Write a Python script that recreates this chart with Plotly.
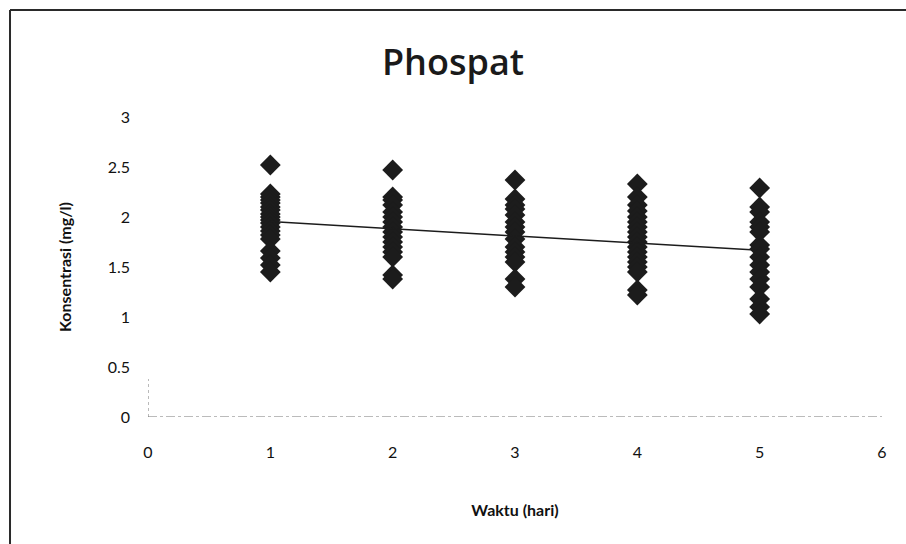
import numpy as np
import plotly.graph_objects as go

days = [1, 2, 3, 4, 5]
day1 = [2.52, 2.23, 2.20, 2.17, 2.14, 2.10, 2.07, 2.03, 2.00, 1.97, 1.94, 1.90, 1.86, 1.82, 1.78, 1.66, 1.59, 1.52, 1.45]
day2 = [2.47, 2.20, 2.17, 2.12, 2.05, 2.00, 1.95, 1.90, 1.85, 1.80, 1.75, 1.70, 1.65, 1.60, 1.42, 1.38]
day3 = [2.37, 2.18, 2.12, 2.08, 2.02, 1.95, 1.90, 1.85, 1.78, 1.70, 1.65, 1.60, 1.55, 1.38, 1.30]
day4 = [2.33, 2.20, 2.12, 2.06, 2.00, 1.95, 1.90, 1.85, 1.80, 1.75, 1.70, 1.65, 1.60, 1.55, 1.50, 1.45, 1.27, 1.22]
day5 = [2.29, 2.10, 2.05, 1.95, 1.90, 1.85, 1.72, 1.68, 1.60, 1.52, 1.45, 1.38, 1.30, 1.18, 1.10, 1.03]
groups = [day1, day2, day3, day4, day5]

x_ticks = [0, 1, 2, 3, 4, 5, 6]
y_ticks = [0, 0.5, 1, 1.5, 2, 2.5, 3]
y_tick_text = ["0", "0.5", "1", "1.5", "2", "2.5", "3"]

xs = []
ys = []
for d, vals in zip(days, groups):
    xs += [d] * len(vals)
    ys += vals
xs = np.array(xs, dtype=float)
ys = np.array(ys, dtype=float)
slope, intercept = np.polyfit(xs, ys, 1)
trend_x = np.array([1.0, 5.0])
trend_y = slope * trend_x + intercept

FONT = "Lato"

fig = go.Figure()
fig.add_trace(go.Scatter(
    x=xs, y=ys, mode="markers",
    marker=dict(symbol="diamond", size=16, color="#1c1c1c", line=dict(width=0)),
    showlegend=False, hoverinfo="x+y"))
fig.add_trace(go.Scatter(
    x=trend_x, y=trend_y, mode="lines",
    line=dict(color="#1c1c1c", width=1.5), showlegend=False))

fig.update_layout(
    width=906, height=544,
    margin=dict(l=148, r=24, t=117, b=127),
    paper_bgcolor="white", plot_bgcolor="white",
    title=dict(text="Phospat", x=0.5, xanchor="center", y=0.885, yanchor="middle",
               font=dict(family="Open Sans", size=36, weight=600, color="#1a1a1a")),
    xaxis=dict(range=[0, 6], tickvals=x_ticks, ticktext=[str(v) for v in x_ticks],
               showgrid=False, zeroline=False, showline=False, ticks="",
               tickfont=dict(family=FONT, size=16, color="#111111"), ticklabelstandoff=24,
               title=dict(text="<b>Waktu (hari)</b>", font=dict(family=FONT, size=16, color="#111111"),
                          standoff=44)),
    yaxis=dict(range=[0, 3], tickvals=y_ticks, ticktext=y_tick_text,
               showgrid=False, zeroline=False, showline=False, ticks="",
               tickfont=dict(family=FONT, size=16, color="#111111"), ticklabelstandoff=17,
               title=dict(text="<b>Konsentrasi (mg/l)</b>", font=dict(family=FONT, size=16, color="#111111"),
                          standoff=32)),
)

# faint axis lines (as scanned)
fig.add_shape(type="line", xref="x", yref="y", x0=0, x1=6, y0=0, y1=0,
              line=dict(color="#777777", width=1, dash="dashdot"))
fig.add_shape(type="line", xref="x", yref="y", x0=0, x1=0, y0=0, y1=0.38,
              line=dict(color="#777777", width=1, dash="dot"))

# outer chart border (top and left visible)
fig.add_shape(type="line", xref="paper", yref="paper", x0=-0.188, x1=1.04, y0=1.357, y1=1.357,
              line=dict(color="#2a2a2a", width=2))
fig.add_shape(type="line", xref="paper", yref="paper", x0=-0.188, x1=-0.188, y0=1.357, y1=-0.43,
              line=dict(color="#2a2a2a", width=2))

fig.write_html("out.html")
